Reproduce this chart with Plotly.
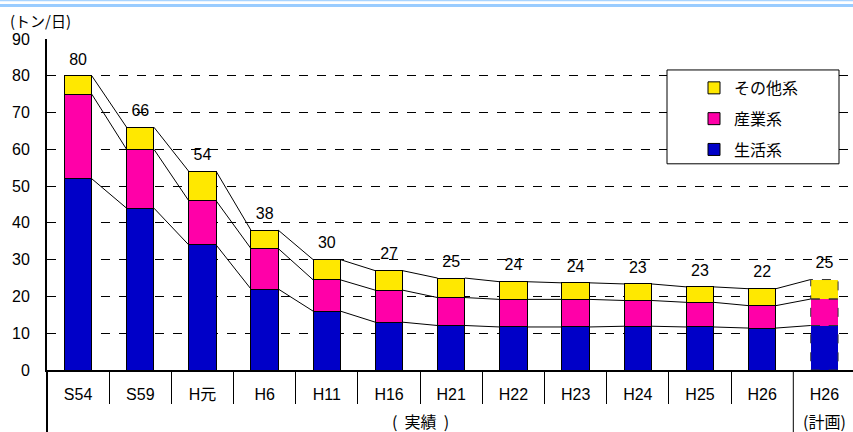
import plotly.graph_objects as go

categories = ["S54", "S59", "H元", "H6", "H11", "H16", "H21", "H22", "H23", "H24", "H25", "H26", "H26"]
seikatsu = [52, 44, 34, 22, 16, 13, 12.1, 11.7, 11.7, 11.9, 11.7, 11.4, 12.1]
sangyo = [23, 16, 12, 11, 8.5, 8.7, 7.6, 7.5, 7.5, 7.0, 6.7, 6.1, 7.2]
sonota = [5, 6, 8, 5, 5.5, 5.3, 5.3, 4.8, 4.5, 4.5, 4.2, 4.6, 5.3]
series_names = ["生活系", "産業系", "その他系"]
series_colors = ["#0000C8", "#FF00A8", "#FFE800"]
group_labels = ["(\u00a0\u00a0実績\u00a0\u00a0)", "(計画)"]
unit_label = "(トン/日)"

NUM_FONT = "Liberation Sans, Arial, Noto Sans CJK JP"
JP_FONT = "Noto Sans CJK JP, Liberation Sans"

n = len(categories)
x = list(range(n))
w = 0.44
plan_idx = n - 1

fig = go.Figure()

values = [seikatsu, sangyo, sonota]
line_widths = [1] * (n - 1) + [0]
for k, (name, vals, col) in enumerate(zip(series_names, values, series_colors)):
    fig.add_trace(go.Bar(
        x=x, y=vals, width=w, name=name, legendgroup=name, legendrank=10 - k,
        marker=dict(color=col, line=dict(color="black", width=line_widths)),
        hoverinfo="skip",
    ))

# cumulative levels
lvl1 = seikatsu
lvl2 = [a + b for a, b in zip(seikatsu, sangyo)]
lvl3 = [a + b + c for a, b, c in zip(seikatsu, sangyo, sonota)]

# series (connector) lines
for lvl in (lvl1, lvl2, lvl3):
    xs, ys = [], []
    for i in range(n - 1):
        xs += [i + w / 2, i + 1 - w / 2, None]
        ys += [lvl[i], lvl[i + 1], None]
    fig.add_trace(go.Scatter(x=xs, y=ys, mode="lines", line=dict(color="black", width=1),
                             showlegend=False, hoverinfo="skip"))

# dashed outline for planned bar
bottoms = [0, lvl1[plan_idx], lvl2[plan_idx]]
tops = [lvl1[plan_idx], lvl2[plan_idx], lvl3[plan_idx]]
for b, t in zip(bottoms, tops):
    x0, x1 = plan_idx - w / 2, plan_idx + w / 2
    fig.add_trace(go.Scatter(x=[x0, x1, x1, x0, x0], y=[b, b, t, t, b], mode="lines",
                             line=dict(color="#333333", width=1, dash="dash"),
                             showlegend=False, hoverinfo="skip"))

# total labels
totals = lvl3
fig.add_trace(go.Scatter(
    x=x, y=totals, mode="markers+text", text=[str(int(t + 0.5)) for t in totals],
    marker=dict(size=10, color="rgba(0,0,0,0)"),
    textposition="top center", textfont=dict(size=16, color="black", family=NUM_FONT),
    showlegend=False, hoverinfo="skip", cliponaxis=False,
))

H = 432
top_px, bot_px = 39, 370.5
ph = bot_px - top_px


def py(p):
    return (bot_px - p) / ph


shapes = [
    # top decorative band
    dict(type="rect", xref="paper", yref="paper", x0=-0.07, x1=1.01, y0=py(1.3), y1=py(-1),
         fillcolor="#a8d4ff", line=dict(width=0), layer="above"),
    dict(type="rect", xref="paper", yref="paper", x0=-0.07, x1=1.01, y0=py(7), y1=py(4),
         fillcolor="#99ccff", line=dict(width=0), layer="above"),
    # y-axis extension down to bottom
    dict(type="line", xref="paper", yref="paper", x0=0, x1=0, y0=0, y1=py(H + 2),
         line=dict(color="black", width=2), layer="above"),
    # divider between actual and plan
    dict(type="line", xref="x", yref="paper", x0=plan_idx - 0.5, x1=plan_idx - 0.5, y0=0, y1=py(H + 2),
         line=dict(color="black", width=1), layer="above"),
    # legend box
    dict(type="rect", xref="paper", yref="paper", x0=(667 - 47) / 806, x1=(839 - 47) / 806,
         y0=py(164), y1=py(70), fillcolor="white", line=dict(color="black", width=1), layer="above"),
]

annotations = [
    dict(text=unit_label, xref="paper", yref="paper", x=(8 - 47) / 806, y=py(20),
         xanchor="left", yanchor="middle", showarrow=False, font=dict(size=15, family=JP_FONT, color="black")),
    dict(text=group_labels[0], xref="x", yref="paper", x=(plan_idx - 1) / 2, y=py(422),
         xanchor="center", yanchor="middle", showarrow=False, font=dict(size=16, family=JP_FONT, color="black")),
    dict(text=group_labels[1], xref="x", yref="paper", x=plan_idx, y=py(422),
         xanchor="center", yanchor="middle", showarrow=False, font=dict(size=16, family=JP_FONT, color="black")),
]

fig.update_layout(
    width=853, height=H,
    margin=dict(l=47, r=0, t=top_px, b=H - bot_px),
    paper_bgcolor="white", plot_bgcolor="white",
    barmode="stack",
    showlegend=True,
    legend=dict(x=(694 - 47) / 806, y=py(71), xanchor="left", yanchor="top",
                tracegroupgap=7,
                bgcolor="rgba(0,0,0,0)", borderwidth=0,
                font=dict(size=16, family=JP_FONT, color="black")),
    shapes=shapes,
    annotations=annotations,
    xaxis=dict(
        range=[-0.5, 12.46], tickmode="array", tickvals=x, ticktext=categories,
        showline=True, linecolor="black", linewidth=2, ticks="", showgrid=False, zeroline=False,
        tickfont=dict(size=16, family=NUM_FONT, color="black"), ticklabelstandoff=9,
        minor=dict(tickmode="array", tickvals=[i + 0.5 for i in range(n - 2)], ticks="outside",
                   ticklen=32, tickcolor="black", tickwidth=1, showgrid=False),
    ),
    yaxis=dict(
        range=[0, 90], dtick=10, tick0=0, showline=True, linecolor="black", linewidth=2,
        showgrid=True, gridcolor="black", griddash="dash", gridwidth=1, zeroline=False,
        ticks="", tickfont=dict(size=16, family=NUM_FONT, color="black"), ticklabelstandoff=12,
    ),
)

fig.write_html("out.html", config={"displayModeBar": False},
               post_script="document.body.style.margin='0';document.body.style.overflow='hidden';")
